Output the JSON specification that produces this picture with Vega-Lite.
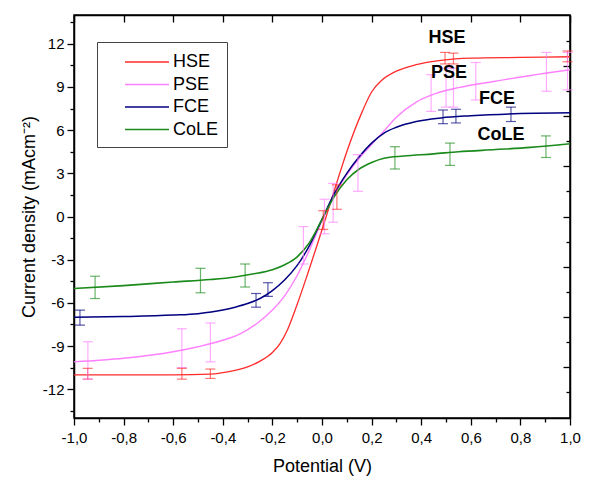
{
  "$schema": "https://vega.github.io/schema/vega-lite/v6.json",
  "width": 496,
  "height": 403,
  "autosize": "none",
  "padding": {"left": 74, "top": 15, "right": 26, "bottom": 59},
  "background": "white",
  "config": {
    "view": {"stroke": "black", "strokeWidth": 1.5},
    "font": "Liberation Sans",
    "axis": {"domainColor": "black", "domainWidth": 1.5, "tickColor": "black", "tickWidth": 1.3, "labelColor": "black", "titleColor": "black", "grid": false, "labelFont": "Liberation Sans", "titleFont": "Liberation Sans", "titleFontWeight": "normal", "labelFontSize": 15, "titleFontSize": 18, "labelFlush": false, "labelOverlap": false}
  },
  "datasets": {
    "curves": [
      {"series": "HSE", "x": -1.0, "y": -11.0}, {"series": "HSE", "x": -0.8, "y": -11.0}, {"series": "HSE", "x": -0.6, "y": -11.0}, {"series": "HSE", "x": -0.45, "y": -10.95}, {"series": "HSE", "x": -0.38, "y": -10.8}, {"series": "HSE", "x": -0.3, "y": -10.45}, {"series": "HSE", "x": -0.25, "y": -10.05}, {"series": "HSE", "x": -0.2, "y": -9.45}, {"series": "HSE", "x": -0.17, "y": -8.85}, {"series": "HSE", "x": -0.14, "y": -7.9}, {"series": "HSE", "x": -0.1, "y": -6.1}, {"series": "HSE", "x": -0.06, "y": -4.1}, {"series": "HSE", "x": -0.02, "y": -2.0}, {"series": "HSE", "x": 0.015, "y": -0.1}, {"series": "HSE", "x": 0.055, "y": 2.1}, {"series": "HSE", "x": 0.1, "y": 4.5}, {"series": "HSE", "x": 0.16, "y": 7.2}, {"series": "HSE", "x": 0.2, "y": 8.65}, {"series": "HSE", "x": 0.24, "y": 9.45}, {"series": "HSE", "x": 0.3, "y": 10.1}, {"series": "HSE", "x": 0.38, "y": 10.55}, {"series": "HSE", "x": 0.48, "y": 10.85}, {"series": "HSE", "x": 0.6, "y": 11.0}, {"series": "HSE", "x": 0.8, "y": 11.05}, {"series": "HSE", "x": 1.0, "y": 11.1},
      {"series": "PSE", "x": -1.0, "y": -10.1}, {"series": "PSE", "x": -0.8, "y": -9.85}, {"series": "PSE", "x": -0.6, "y": -9.4}, {"series": "PSE", "x": -0.5, "y": -9.05}, {"series": "PSE", "x": -0.4, "y": -8.6}, {"series": "PSE", "x": -0.33, "y": -8.15}, {"series": "PSE", "x": -0.26, "y": -7.4}, {"series": "PSE", "x": -0.2, "y": -6.5}, {"series": "PSE", "x": -0.15, "y": -5.5}, {"series": "PSE", "x": -0.1, "y": -4.1}, {"series": "PSE", "x": -0.05, "y": -2.3}, {"series": "PSE", "x": 0.0, "y": -0.3}, {"series": "PSE", "x": 0.05, "y": 1.5}, {"series": "PSE", "x": 0.1, "y": 2.9}, {"series": "PSE", "x": 0.15, "y": 4.05}, {"series": "PSE", "x": 0.2, "y": 5.0}, {"series": "PSE", "x": 0.25, "y": 5.95}, {"series": "PSE", "x": 0.3, "y": 6.9}, {"series": "PSE", "x": 0.38, "y": 7.95}, {"series": "PSE", "x": 0.46, "y": 8.55}, {"series": "PSE", "x": 0.55, "y": 8.95}, {"series": "PSE", "x": 0.7, "y": 9.4}, {"series": "PSE", "x": 0.84, "y": 9.8}, {"series": "PSE", "x": 1.0, "y": 10.2},
      {"series": "FCE", "x": -1.0, "y": -7.0}, {"series": "FCE", "x": -0.8, "y": -6.95}, {"series": "FCE", "x": -0.6, "y": -6.85}, {"series": "FCE", "x": -0.5, "y": -6.75}, {"series": "FCE", "x": -0.4, "y": -6.5}, {"series": "FCE", "x": -0.35, "y": -6.3}, {"series": "FCE", "x": -0.3, "y": -6.05}, {"series": "FCE", "x": -0.25, "y": -5.7}, {"series": "FCE", "x": -0.2, "y": -5.15}, {"series": "FCE", "x": -0.15, "y": -4.4}, {"series": "FCE", "x": -0.1, "y": -3.4}, {"series": "FCE", "x": -0.05, "y": -2.0}, {"series": "FCE", "x": 0.0, "y": -0.2}, {"series": "FCE", "x": 0.05, "y": 1.6}, {"series": "FCE", "x": 0.1, "y": 3.0}, {"series": "FCE", "x": 0.15, "y": 4.15}, {"series": "FCE", "x": 0.2, "y": 5.1}, {"series": "FCE", "x": 0.25, "y": 5.8}, {"series": "FCE", "x": 0.3, "y": 6.2}, {"series": "FCE", "x": 0.38, "y": 6.6}, {"series": "FCE", "x": 0.48, "y": 6.85}, {"series": "FCE", "x": 0.6, "y": 7.0}, {"series": "FCE", "x": 0.8, "y": 7.15}, {"series": "FCE", "x": 1.0, "y": 7.2},
      {"series": "CoLE", "x": -1.0, "y": -5.0}, {"series": "CoLE", "x": -0.8, "y": -4.8}, {"series": "CoLE", "x": -0.6, "y": -4.55}, {"series": "CoLE", "x": -0.45, "y": -4.38}, {"series": "CoLE", "x": -0.35, "y": -4.2}, {"series": "CoLE", "x": -0.28, "y": -4.0}, {"series": "CoLE", "x": -0.2, "y": -3.7}, {"series": "CoLE", "x": -0.15, "y": -3.35}, {"series": "CoLE", "x": -0.1, "y": -2.8}, {"series": "CoLE", "x": -0.05, "y": -1.8}, {"series": "CoLE", "x": 0.0, "y": -0.2}, {"series": "CoLE", "x": 0.05, "y": 1.4}, {"series": "CoLE", "x": 0.1, "y": 2.55}, {"series": "CoLE", "x": 0.15, "y": 3.3}, {"series": "CoLE", "x": 0.2, "y": 3.75}, {"series": "CoLE", "x": 0.25, "y": 4.05}, {"series": "CoLE", "x": 0.33, "y": 4.2}, {"series": "CoLE", "x": 0.45, "y": 4.35}, {"series": "CoLE", "x": 0.55, "y": 4.5}, {"series": "CoLE", "x": 0.7, "y": 4.65}, {"series": "CoLE", "x": 0.84, "y": 4.8}, {"series": "CoLE", "x": 1.0, "y": 5.05}
    ],
    "bars": [
      {"series": "HSE", "x": -0.945, "lo": -11.3, "hi": -10.55}, {"series": "HSE", "x": -0.565, "lo": -11.3, "hi": -10.55}, {"series": "HSE", "x": -0.45, "lo": -11.25, "hi": -10.6}, {"series": "HSE", "x": 0.005, "lo": -0.9, "hi": 0.4}, {"series": "HSE", "x": 0.06, "lo": 0.5, "hi": 2.2}, {"series": "HSE", "x": 0.496, "lo": 10.6, "hi": 11.4}, {"series": "HSE", "x": 0.53, "lo": 10.6, "hi": 11.35}, {"series": "HSE", "x": 0.99, "lo": 10.75, "hi": 11.5},
      {"series": "PSE", "x": -0.944, "lo": -11.3, "hi": -8.7}, {"series": "PSE", "x": -0.565, "lo": -10.5, "hi": -7.8}, {"series": "PSE", "x": -0.45, "lo": -10.1, "hi": -7.4}, {"series": "PSE", "x": -0.075, "lo": -3.3, "hi": -0.7}, {"series": "PSE", "x": 0.01, "lo": -1.2, "hi": 1.2}, {"series": "PSE", "x": 0.045, "lo": -0.4, "hi": 2.3}, {"series": "PSE", "x": 0.145, "lo": 1.75, "hi": 4.3}, {"series": "PSE", "x": 0.44, "lo": 7.3, "hi": 9.85}, {"series": "PSE", "x": 0.5, "lo": 7.6, "hi": 10.3}, {"series": "PSE", "x": 0.53, "lo": 7.6, "hi": 10.3}, {"series": "PSE", "x": 0.62, "lo": 8.1, "hi": 10.7}, {"series": "PSE", "x": 0.905, "lo": 8.7, "hi": 11.4}, {"series": "PSE", "x": 0.99, "lo": 8.8, "hi": 11.4},
      {"series": "FCE", "x": -0.976, "lo": -7.55, "hi": -6.5}, {"series": "FCE", "x": -0.266, "lo": -6.3, "hi": -5.35}, {"series": "FCE", "x": -0.218, "lo": -5.55, "hi": -4.6}, {"series": "FCE", "x": 0.488, "lo": 6.45, "hi": 7.4}, {"series": "FCE", "x": 0.54, "lo": 6.5, "hi": 7.45}, {"series": "FCE", "x": 0.762, "lo": 6.6, "hi": 7.6},
      {"series": "CoLE", "x": -0.915, "lo": -5.7, "hi": -4.15}, {"series": "CoLE", "x": -0.49, "lo": -5.3, "hi": -3.6}, {"series": "CoLE", "x": -0.31, "lo": -4.9, "hi": -3.3}, {"series": "CoLE", "x": 0.294, "lo": 3.3, "hi": 4.85}, {"series": "CoLE", "x": 0.516, "lo": 3.55, "hi": 5.1}, {"series": "CoLE", "x": 0.903, "lo": 4.1, "hi": 5.6}
    ],
    "labels": [
      {"label": "HSE", "x": 0.504, "y": 12.38}, {"label": "PSE", "x": 0.512, "y": 9.99}, {"label": "FCE", "x": 0.706, "y": 8.15}, {"label": "CoLE", "x": 0.722, "y": 5.65}
    ]
  },
  "layer": [
    {
      "data": {"name": "curves"},
      "mark": {"type": "line", "interpolate": "monotone"},
      "encoding": {
        "x": {"field": "x", "type": "quantitative", "scale": {"domain": [-1, 1], "nice": false, "zero": false},
          "axis": {"orient": "bottom", "title": "Potential (V)", "values": [-1, -0.9, -0.8, -0.7, -0.6, -0.5, -0.4, -0.3, -0.2, -0.1, 0, 0.1, 0.2, 0.3, 0.4, 0.5, 0.6, 0.7, 0.8, 0.9, 1],
            "labelExpr": "abs(round(datum.value*10)) % 2 == 0 ? replace(replace(format(datum.value, '.1f'), '.', ','), '\u2212', '-') : ''",
            "tickSize": {"condition": {"test": "abs(round(datum.value*10)) % 2 == 0", "value": 7}, "value": 4},
            "labelPadding": 5, "titlePadding": 12}},
        "y": {"field": "y", "type": "quantitative", "scale": {"domain": [-14, 14], "nice": false, "zero": false},
          "axis": {"orient": "left", "title": "Current density (mAcm\u207b\u00b2)", "values": [-13.5, -12, -10.5, -9, -7.5, -6, -4.5, -3, -1.5, 0, 1.5, 3, 4.5, 6, 7.5, 9, 10.5, 12, 13.5],
            "labelExpr": "abs(datum.value % 3) < 0.01 ? '' + datum.value : ''",
            "tickSize": {"condition": {"test": "abs(datum.value % 3) < 0.01", "value": 7}, "value": 4},
            "labelPadding": 3, "titlePadding": 4}},
        "color": {"field": "series", "type": "nominal", "scale": {"domain": ["HSE", "PSE", "FCE", "CoLE"], "range": ["#ff2a2a", "#ff80ff", "#000080", "#1a8a1a"]},
          "legend": {"title": null, "orient": "none", "legendX": 23, "legendY": 27, "strokeColor": "#444444", "padding": 8, "symbolType": "M-2,0H2", "symbolSize": 484, "symbolStrokeWidth": 2, "symbolOffset": 30, "labelOffset": 14, "labelFontSize": 18, "labelFont": "Liberation Sans", "labelColor": "black", "rowPadding": 1.5, "symbolOpacity": 1}},
        "strokeWidth": {"field": "series", "type": "nominal", "scale": {"domain": ["HSE", "PSE", "FCE", "CoLE"], "range": [1.3, 1.6, 3, 1.8]}, "legend": null}
      }
    },
    {
      "data": {"name": "bars"},
      "mark": {"type": "rule", "opacity": 0.65, "strokeWidth": 1.2},
      "encoding": {
        "x": {"field": "x", "type": "quantitative", "axis": null},
        "y": {"field": "lo", "type": "quantitative", "axis": null},
        "y2": {"field": "hi"},
        "color": {"field": "series", "type": "nominal", "legend": null}
      }
    },
    {
      "data": {"name": "bars"},
      "mark": {"type": "tick", "orient": "horizontal", "size": 10, "thickness": 1.2, "opacity": 0.65},
      "encoding": {
        "x": {"field": "x", "type": "quantitative", "axis": null},
        "y": {"field": "lo", "type": "quantitative", "axis": null},
        "color": {"field": "series", "type": "nominal", "legend": null}
      }
    },
    {
      "data": {"name": "bars"},
      "mark": {"type": "tick", "orient": "horizontal", "size": 10, "thickness": 1.2, "opacity": 0.65},
      "encoding": {
        "x": {"field": "x", "type": "quantitative", "axis": null},
        "y": {"field": "hi", "type": "quantitative", "axis": null},
        "color": {"field": "series", "type": "nominal", "legend": null}
      }
    },
    {
      "data": {"name": "labels"},
      "mark": {"type": "text", "font": "Liberation Sans", "fontSize": 18, "fontWeight": "bold", "color": "black", "align": "center", "baseline": "middle"},
      "encoding": {
        "x": {"field": "x", "type": "quantitative",
          "axis": {"orient": "top", "title": null, "labels": false, "values": [-1, -0.8, -0.6, -0.4, -0.2, 0, 0.2, 0.4, 0.6, 0.8, 1], "tickSize": -7}},
        "y": {"field": "y", "type": "quantitative",
          "axis": {"orient": "right", "title": null, "labels": false, "values": [-12.159, -10.422, -8.685, -6.948, -5.211, -3.474, -1.737, 0, 1.737, 3.474, 5.211, 6.948, 8.685, 10.422, 12.159],
            "tickSize": {"condition": {"test": "abs(round(datum.value / 1.737)) % 2 == 0", "value": -7}, "value": -4}}},
        "text": {"field": "label"}
      }
    }
  ],
  "resolve": {"axis": {"x": "independent", "y": "independent"}}
}
